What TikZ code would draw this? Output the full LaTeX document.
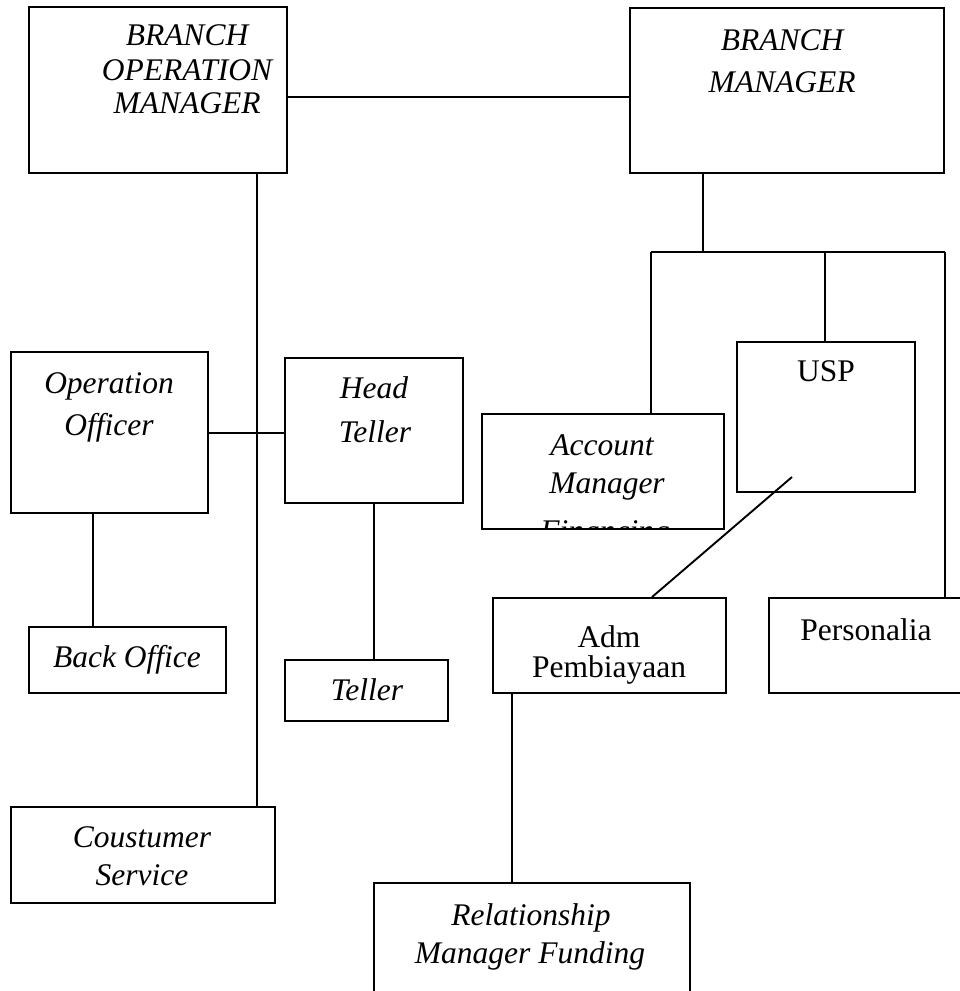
\documentclass[tikz,border=0pt]{standalone}
\usepackage{fontspec}
\setmainfont{Liberation Serif}
\begin{document}
\begin{tikzpicture}[x=1pt,y=-1pt,
  box/.style={draw,line width=1.9pt,inner sep=0pt},
  conn/.style={line width=1.9pt},
  it/.style={font=\fontsize{31.5}{36}\selectfont\itshape,anchor=base,inner sep=0pt},
  rm/.style={font=\fontsize{31.5}{36}\selectfont,anchor=base,inner sep=0pt}]
\useasboundingbox (0,0) rectangle (960,991);
% boxes
\node[box,minimum width=258pt,minimum height=166pt] (bom) at (158,90) {};
\node[box,minimum width=314pt,minimum height=165pt] (bm) at (787,90.5) {};
\node[box,minimum width=197pt,minimum height=161pt] (oo) at (109.5,432.5) {};
\node[box,minimum width=178pt,minimum height=145pt] (ht) at (374,430.5) {};
\node[box,minimum width=242pt,minimum height=115pt] (am) at (603,471.5) {};
\node[box,minimum width=178pt,minimum height=150pt] (usp) at (826,417) {};
\node[box,minimum width=197pt,minimum height=66pt] (bo) at (127.5,660) {};
\node[box,minimum width=163pt,minimum height=61pt] (tel) at (366.5,690.5) {};
\node[box,minimum width=264pt,minimum height=96pt] (cs) at (143,855) {};
\node[box,minimum width=233pt,minimum height=95pt] (adm) at (609.5,645.5) {};
\node[box,minimum width=201pt,minimum height=95pt] (per) at (869.5,645.5) {};
\node[box,minimum width=316pt,minimum height=120pt] (rmf) at (532,943) {};
% texts
\node[it] (t1) at (187,45) {BRANCH};
\node[it] (t2) at (187,80) {OPERATION};
\node[it] (t3) at (187,113) {MANAGER};
\node[it] (t4) at (782,50) {BRANCH};
\node[it] (t5) at (782,92) {MANAGER};
\node[it] (t6) at (109,393) {Operation};
\node[it] (t7) at (109,435) {Officer};
\node[it] (t8) at (374,398) {Head};
\node[it] (t9) at (375,442) {Teller};
\node[it] (t10) at (127,667) {Back Office};
\node[it] (t11) at (367,700) {Teller};
\node[it] (t12) at (142,847) {Coustumer};
\node[it] (t13) at (142,885) {Service};
\node[rm] (t14) at (609,647) {Adm};
\node[rm] (t15) at (609,677) {Pembiayaan};
\node[it] (t16) at (602,455) {Account};
\node[it] (t17) at (607,493) {Manager};
\begin{scope}
\clip (am.south west) rectangle (am.north east);
\node[it] (t18) at (605,541) {Financing};
\end{scope}
\node[it] (t19) at (531,925) {Relationship};
\node[it] (t20) at (530,963) {Manager Funding};
\node[rm] (t21) at (866,640) {Personalia};
\node[rm] (t22) at (826,381) {USP};
% connectors
\coordinate (hl) at (651,252);
\coordinate (hr) at (945,252);
\coordinate (uspin) at (792,477);
\draw[conn] (bom.east |- 0,97) -- (bm.west |- 0,97);
\draw[conn] (bom.south -| 257,0) -- (cs.north -| 257,0);
\draw[conn] (oo.east |- 0,433) -- (ht.west |- 0,433);
\draw[conn] (oo.south -| 93,0) -- (bo.north -| 93,0);
\draw[conn] (ht.south -| 374,0) -- (tel.north -| 374,0);
\draw[conn] (bm.south -| 703,0) -- (hl -| 703,0);
\draw[conn] (hl) -- (hr);
\draw[conn] (hl) -- (am.north -| hl);
\draw[conn] (usp.north -| 825,0) -- (hl -| 825,0);
\draw[conn] (hr) -- (per.north -| hr);
\draw[conn] (uspin) -- (adm.north -| 652,0);
\draw[conn] (adm.south -| 512,0) -- (rmf.north -| 512,0);
\end{tikzpicture}
\end{document}
